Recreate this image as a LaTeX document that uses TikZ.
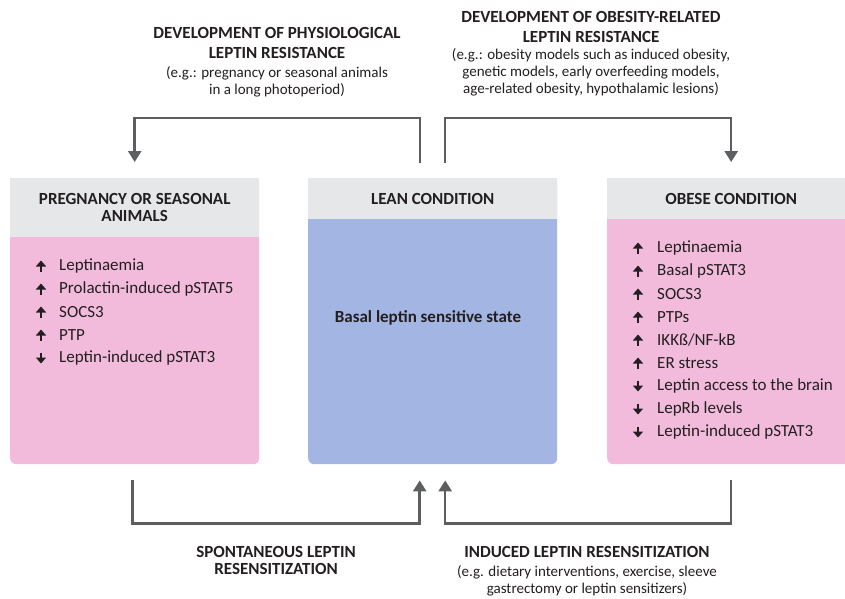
\documentclass[tikz,border=0pt]{standalone}
\usepackage{fontspec}
\setmainfont{Carlito}
\usetikzlibrary{arrows.meta,positioning}
\definecolor{hdgray}{RGB}{230,231,233}
\definecolor{obpink}{RGB}{242,187,220}
\definecolor{leanblue}{RGB}{163,181,226}
\definecolor{flowgray}{RGB}{93,94,96}
\definecolor{txt}{RGB}{35,31,32}
\tikzset{
  body/.style={rounded corners=6pt, minimum width=249pt, minimum height=286pt, inner sep=0pt, anchor=north west},
  head/.style={fill=hdgray, minimum width=249pt, inner sep=0pt, anchor=north west, align=center,
    text=txt, font=\fontsize{17}{17.5}\selectfont\bfseries},
  flow/.style={draw=flowgray, line width=2.5pt, -{Triangle[width=13pt,length=11pt]}},
  updown/.style={draw=txt, line width=2.8pt, -{Triangle[width=10pt,length=6pt]}},
  item/.style={anchor=west, inner sep=0pt, text=txt, font=\fontsize{17}{18}\selectfont},
  title/.style={align=center, inner sep=0pt, text=txt, font=\fontsize{17}{20}\selectfont\bfseries},
  note/.style={align=center, inner sep=0pt, text=txt, font=\fontsize{15}{17}\selectfont}
}
\begin{document}
\begin{tikzpicture}[x=1pt,y=-1pt]
\useasboundingbox (0,0) rectangle (845,598);
\fill[white] (0,0) rectangle (845,598);
% boxes
\node[body, fill=obpink] (pregbody) at (10,178) {};
\node[head, minimum height=59pt] (preg) at (10,178) {PREGNANCY OR SEASONAL\\ANIMALS};
\node[body, fill=leanblue] (leanbody) at (308,178) {};
\node[head, minimum height=41pt] (lean) at (308,178) {LEAN CONDITION};
\node[body, fill=obpink, minimum width=260pt] (obesebody) at (607,178) {};
\node[head, minimum height=41pt, minimum width=248pt] (obese) at (607,178) {OBESE CONDITION};
\node[title] (basal) at (428,318) {Basal leptin sensitive state};
\foreach \y/\d/\t [count=\i] in {266/1/Leptinaemia, 289/1/Prolactin-induced pSTAT5, 312/1/SOCS3,
    335/1/PTP, 358/-1/Leptin-induced pSTAT3} % edit here for the left list
{\node[item] (pl\i) at (59,\y) {\t};
 \draw[updown] (41,{\y+5.5*\d}) -- (41,{\y-5.5*\d});}
\foreach \y/\d/\t [count=\i] in {248/1/Leptinaemia, 271/1/Basal pSTAT3, 294/1/SOCS3, 317/1/PTPs,
    340/1/{IKKß/NF-kB}, 363/1/ER stress, 386/-1/Leptin access to the brain, 409/-1/LepRb levels,
    432/-1/Leptin-induced pSTAT3} % edit here for the right list
{\node[item] (ob\i) at (657,\y) {\t};
 \draw[updown] (638,{\y+5.5*\d}) -- (638,{\y-5.5*\d});}
% labels
\node[title] (physT) at (277,43) {DEVELOPMENT OF PHYSIOLOGICAL\\LEPTIN RESISTANCE};
\node[note, below=7pt of physT] (physN) {(e.g.: pregnancy or seasonal animals\\in a long photoperiod)};
\node[title] (obT) at (591,26.5) {DEVELOPMENT OF OBESITY-RELATED\\LEPTIN RESISTANCE};
\node[note, below=6pt of obT] (obN) {(e.g.: obesity models such as induced obesity,\\genetic models, early overfeeding models,\\age-related obesity, hypothalamic lesions)};
\node[title, font=\fontsize{17}{17}\selectfont\bfseries] (spont) at (276,560) {SPONTANEOUS LEPTIN\\RESENSITIZATION};
\node[title] (indT) at (587,552) {INDUCED LEPTIN RESENSITIZATION};
\node[note, below=7pt of indT] (indN) {(e.g. dietary interventions, exercise, sleeve\\gastrectomy or leptin sensitizers)};
% connectors
\draw[flow] ([xshift=-12.5pt,yshift=15pt]lean.north) |- ([yshift=60pt]preg.north) -- ([yshift=16pt]preg.north);
\draw[flow] ([xshift=12.5pt,yshift=15pt]lean.north) |- ([yshift=60pt]obese.north) -- ([yshift=16pt]obese.north);
\draw[flow] ([xshift=-2pt,yshift=-16pt]pregbody.south) |- ([xshift=-13pt,yshift=-59pt]leanbody.south) -- ([xshift=-13pt,yshift=-16pt]leanbody.south);
\draw[flow] ([xshift=-6pt,yshift=-16pt]obesebody.south) |- ([xshift=12.5pt,yshift=-59pt]leanbody.south) -- ([xshift=12.5pt,yshift=-16pt]leanbody.south);
\end{tikzpicture}
\end{document}
